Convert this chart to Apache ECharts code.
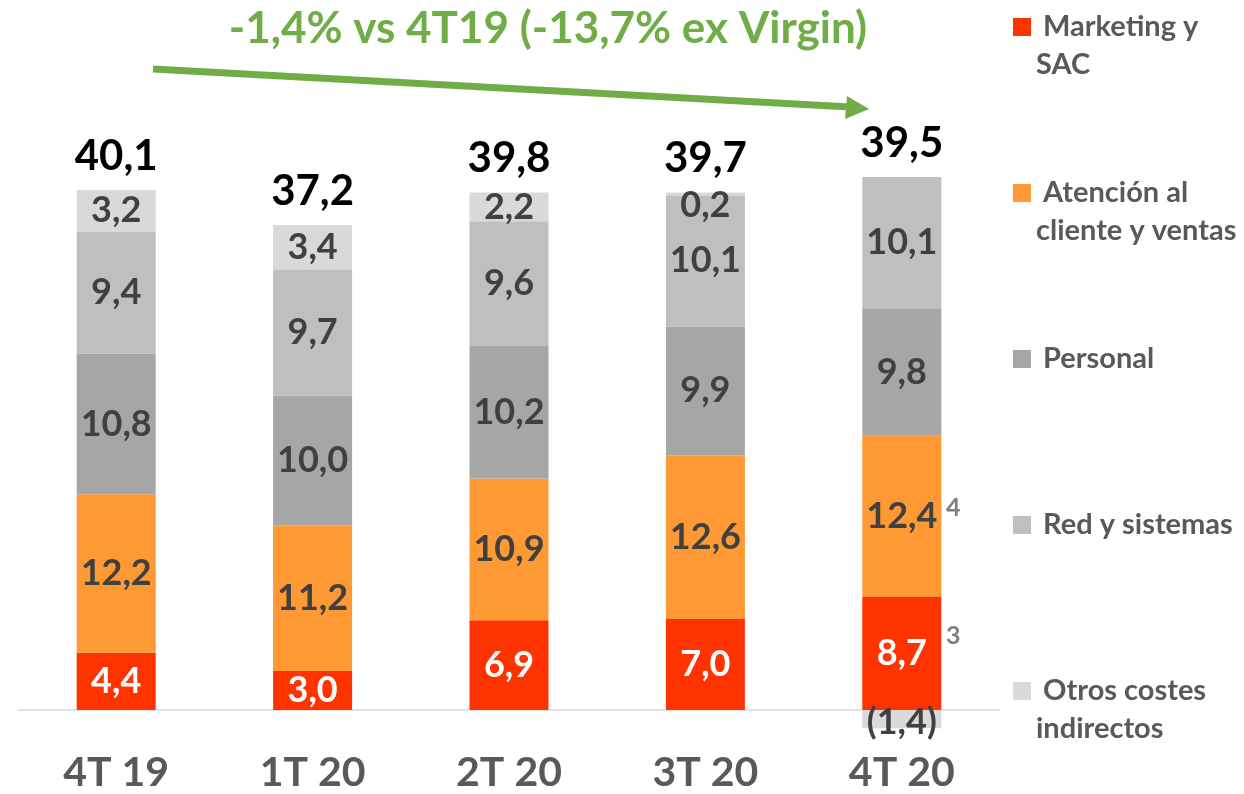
<!DOCTYPE html>
<html lang="es">
<head>
    <meta charset="UTF-8">
    <title>costes</title>
    <script src="https://cdn.jsdelivr.net/npm/echarts@6/dist/echarts.min.js"></script>
    <style>
        html, body { margin: 0; padding: 0; background: #fff; }
    </style>
</head>
<body>
<div id="main" style="width: 1244px;height:794px;"></div>
<script type="text/javascript">
    // datos
    var categorias = ['4T 19', '1T 20', '2T 20', '3T 20', '4T 20'];
    var marketing = [4.4, 3.0, 6.9, 7.0, 8.7];
    var atencion = [12.2, 11.2, 10.9, 12.6, 12.4];
    var personal = [10.8, 10.0, 10.2, 9.9, 9.8];
    var redSistemas = [9.4, 9.7, 9.6, 10.1, 10.1];
    var otros = [3.2, 3.4, 2.2, 0.2, -1.4];
    var totales = [40.1, 37.2, 39.8, 39.7, 39.5];

    var fuente = 'Lato';
    var textoOscuro = '#404040';

    function fmt(v) {
        var s = Math.abs(v).toFixed(1).replace('.', ',');
        return v < 0 ? '(' + s + ')' : s;
    }

    // tres lineas por entrada: asi el cuadrado queda a la altura de la primera linea
    var nombresLeyenda = {
        'Marketing y SAC': ' \n Marketing y\nSAC',
        'Atención al cliente y ventas': ' \n Atención al\ncliente y ventas',
        'Personal': ' \n Personal\n ',
        'Red y sistemas': ' \n Red y sistemas\n ',
        'Otros costes indirectos': ' \n Otros costes\nindirectos'
    };

    function serie(nombre, datos, color, colorTexto) {
        return {
            name: nombre,
            type: 'bar',
            stack: 'total',
            barWidth: 79,
            itemStyle: { color: color },
            label: {
                show: true,
                position: 'inside',
                fontFamily: fuente,
                fontWeight: 'bold',
                fontSize: 36,
                color: colorTexto,
                formatter: function (p) { return fmt(p.value); }
            },
            data: datos.map(function (v) {
                // las etiquetas de segmentos muy pequeños bajan un poco
                if (v > 0 && v < 1) {
                    return { value: v, label: { offset: [0, 11] } };
                }
                if (v < 0) {
                    return { value: v, label: { offset: [0, 3] } };
                }
                return v;
            })
        };
    }

    var myChart = echarts.init(document.getElementById('main'));
    var option = {
        animation: false,
        title: {
            text: '-1,4% vs 4T19 (-13,7% ex Virgin)',
            left: 543,
            top: 2,
            textAlign: 'center',
            textStyle: {
                fontFamily: fuente,
                fontWeight: 'bold',
                fontSize: 44,
                color: '#70AD47'
            }
        },
        legend: {
            orient: 'vertical',
            left: 1008,
            top: -35,
            icon: 'rect',
            itemWidth: 18,
            itemHeight: 18,
            itemGap: 52,
            selectedMode: false,
            formatter: function (name) { return nombresLeyenda[name]; },
            textStyle: {
                fontFamily: fuente,
                fontWeight: 'bold',
                fontSize: 29,
                lineHeight: 38,
                color: '#595959'
            },
            data: ['Marketing y SAC', 'Atención al cliente y ventas', 'Personal',
                'Red y sistemas', 'Otros costes indirectos']
        },
        grid: {
            left: 18,
            right: 244,
            top: 138,
            bottom: 58,
            containLabel: false,
            outerBoundsMode: 'none'
        },
        xAxis: {
            type: 'category',
            data: categorias,
            axisLine: { onZero: true, lineStyle: { color: '#D9D9D9', width: 1.5 } },
            axisTick: { show: false },
            axisLabel: {
                margin: 16,
                fontFamily: fuente,
                fontWeight: 'bold',
                fontSize: 41,
                color: '#595959'
            }
        },
        yAxis: {
            type: 'value',
            min: -2,
            max: 44,
            show: false,
            splitLine: { show: false }
        },
        graphic: [
            {
                type: 'line',
                shape: { x1: 153, y1: 69, x2: 850, y2: 107 },
                style: { stroke: '#70AD47', lineWidth: 7 }
            },
            {
                type: 'polygon',
                shape: { points: [[869, 109], [847, 96], [845, 119]] },
                style: { fill: '#70AD47' }
            },
            {
                type: 'text',
                left: 946,
                top: 495,
                style: { text: '4', fontFamily: fuente, fontWeight: 'bold', fontSize: 25, fill: '#7F7F7F' }
            },
            {
                type: 'text',
                left: 946,
                top: 623,
                style: { text: '3', fontFamily: fuente, fontWeight: 'bold', fontSize: 25, fill: '#7F7F7F' }
            }
        ],
        series: [
            serie('Marketing y SAC', marketing, '#FF3300', '#FFFFFF'),
            serie('Atención al cliente y ventas', atencion, '#FF9933', textoOscuro),
            serie('Personal', personal, '#A6A6A6', textoOscuro),
            serie('Red y sistemas', redSistemas, '#BFBFBF', textoOscuro),
            serie('Otros costes indirectos', otros, '#D9D9D9', textoOscuro),
            {
                name: 'Total',
                type: 'bar',
                stack: 'total',
                stackStrategy: 'positive',
                barWidth: 79,
                itemStyle: { color: 'transparent' },
                label: {
                    show: true,
                    position: 'top',
                    distance: 13,
                    fontFamily: fuente,
                    fontWeight: 'bold',
                    fontSize: 42,
                    color: '#000000',
                    formatter: function (p) { return fmt(totales[p.dataIndex]); }
                },
                data: totales.map(function () { return 0; })
            }
        ]
    };
    myChart.setOption(option);
</script>
</body>
</html>
